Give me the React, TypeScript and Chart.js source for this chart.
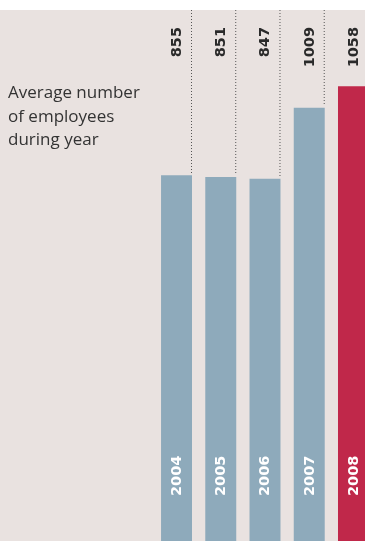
import React, { useEffect, useRef } from "react";
import { Chart, registerables } from "chart.js";

Chart.register(...registerables);

const years = ["2004", "2005", "2006", "2007", "2008"];
const employees = [855, 851, 847, 1009, 1058];
const barColors = ["#8eaabb", "#8eaabb", "#8eaabb", "#8eaabb", "#c0284a"];
const titleLines = ["Average number", "of employees", "during year"];

const BG = "#e9e2e0";
const FONT = "'Open Sans', 'DejaVu Sans', sans-serif";
const NUM_FONT = "'DejaVu Sans', sans-serif";

const decorPlugin = {
  id: "decor",
  beforeDraw(chart: any) {
    const { ctx, chartArea } = chart;
    ctx.save();
    ctx.fillStyle = BG;
    ctx.fillRect(0, chartArea.top, chart.width, chart.height - chartArea.top);
    ctx.fillStyle = "#333333";
    ctx.font = `400 17px ${FONT}`;
    ctx.textAlign = "left";
    ctx.textBaseline = "alphabetic";
    titleLines.forEach((line, i) => {
      ctx.fillText(line, 8, 98 + i * 23.5);
    });
    ctx.restore();
  },
  afterDatasetsDraw(chart: any) {
    const { ctx, chartArea } = chart;
    const meta = chart.getDatasetMeta(0);
    ctx.save();
    meta.data.forEach((bar: any, i: number) => {
      const { x, y, width } = bar.getProps(["x", "y", "width"], true);
      const right = x + width / 2 - 0.5;
      ctx.strokeStyle = "#555555";
      ctx.lineWidth = 1;
      ctx.setLineDash([1, 2]);
      ctx.beginPath();
      ctx.moveTo(right, chartArea.top);
      ctx.lineTo(right, y - 2);
      ctx.stroke();
      ctx.setLineDash([]);
      ctx.save();
      ctx.translate(x, chartArea.top + 17);
      ctx.rotate(-Math.PI / 2);
      ctx.font = `bold 14.5px ${NUM_FONT}`;
      ctx.fillStyle = "#2a2a2a";
      ctx.textAlign = "right";
      ctx.textBaseline = "middle";
      ctx.fillText(String(employees[i]), 0, 0.5);
      ctx.restore();
      ctx.save();
      ctx.translate(x, 496);
      ctx.rotate(-Math.PI / 2);
      ctx.font = `bold 14.5px ${NUM_FONT}`;
      ctx.fillStyle = "#ffffff";
      ctx.textAlign = "left";
      ctx.textBaseline = "middle";
      ctx.fillText(years[i], 0, 0.5);
      ctx.restore();
    });
    ctx.restore();
  },
};

export default function App() {
  const ref = useRef<HTMLCanvasElement>(null);
  useEffect(() => {
    document.body.style.margin = "0";
    const chart = new Chart(ref.current!, {
      type: "bar",
      data: {
        labels: years,
        datasets: [
          {
            data: employees,
            backgroundColor: barColors,
            borderWidth: 0,
            barPercentage: 0.7,
            categoryPercentage: 1,
          },
        ],
      },
      options: {
        animation: false,
        responsive: false,
        events: [],
        layout: { padding: { left: 154.4, right: 4.4, top: 10, bottom: 0 } },
        plugins: { legend: { display: false }, tooltip: { enabled: false } },
        scales: {
          x: { display: false },
          y: { display: false, min: 0, max: 1232 },
        },
      },
      plugins: [decorPlugin],
    });
    return () => chart.destroy();
  }, []);
  return (
    <div
      style={{
        position: "relative",
        width: 365,
        height: 541,
        overflow: "hidden",
        background: "#ffffff",
      }}
    >
      <canvas
        ref={ref}
        width={380}
        height={550}
        style={{ position: "absolute", left: 0, top: 0, width: 380, height: 550 }}
      />
    </div>
  );
}
